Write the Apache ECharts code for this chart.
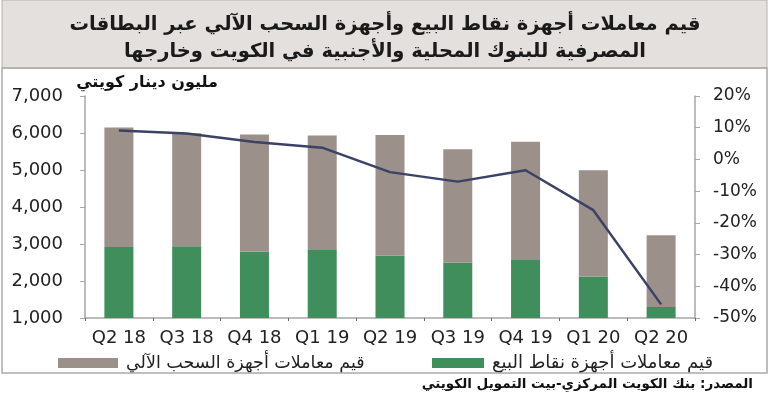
<!DOCTYPE html>
<html>
<head>
<meta charset="utf-8">
<script src="https://cdn.jsdelivr.net/npm/echarts@6/dist/echarts.min.js"></script>
<style>
  html, body { margin: 0; padding: 0; background: #fff; }
  #chart { width: 770px; height: 409px; }
</style>
</head>
<body>
<div id="chart"></div>
<script>
// بيانات الرسم
const quarters = ['Q2 18', 'Q3 18', 'Q4 18', 'Q1 19', 'Q2 19', 'Q3 19', 'Q4 19', 'Q1 20', 'Q2 20'];
// نقاط البيع (الجزء الأخضر)
const posValues = [2920, 2940, 2800, 2840, 2680, 2500, 2590, 2120, 1300];
// السحب الآلي (الجزء الرمادي فوق الأخضر)
const atmValues = [3230, 3050, 3160, 3090, 3265, 3060, 3175, 2870, 1935];
// نسبة التغير (المحور الأيمن)
const changeValues = [9.1, 8.2, 5.5, 3.7, -4.0, -7.0, -3.4, -16.0, -45.7];

const posName = 'قيم معاملات أجهزة نقاط البيع';
const atmName = 'قيم معاملات أجهزة السحب الآلي';

const arabicFont = 'DejaVu Sans';
const numFont = 'DejaVu Sans';
const axisGrey = '#a6a6a6';

const chart = echarts.init(document.getElementById('chart'), null, { renderer: 'canvas' });

const option = {
  animation: false,
  title: {
    text: 'قيم معاملات أجهزة نقاط البيع وأجهزة السحب الآلي عبر البطاقات\nالمصرفية للبنوك المحلية والأجنبية في الكويت وخارجها',
    left: 'center',
    top: 6,
    textStyle: {
      fontFamily: arabicFont,
      fontSize: 19.5,
      fontWeight: 'bold',
      color: '#1a1a1a',
      lineHeight: 27
    }
  },
  graphic: [
    {
      type: 'rect',
      z: -10,
      shape: { x: 2, y: 0, width: 765, height: 68 },
      style: { fill: '#e3e0dd', stroke: '#b5b1ad', lineWidth: 1 }
    },
    {
      type: 'rect',
      z: -10,
      shape: { x: 2, y: 68, width: 765, height: 305 },
      style: { fill: 'none', stroke: '#a9a9a9', lineWidth: 1.5 }
    },
    {
      type: 'text',
      x: 218,
      y: 83,
      style: {
        text: 'مليون دينار كويتي',
        fontFamily: arabicFont,
        fontSize: 16,
        fontWeight: 'bold',
        fill: '#111',
        align: 'right',
        verticalAlign: 'middle'
      }
    },
    {
      type: 'text',
      x: 753,
      y: 384,
      style: {
        text: 'المصدر: بنك الكويت المركزي-بيت التمويل الكويتي',
        fontFamily: arabicFont,
        fontSize: 13.5,
        fontWeight: 'bold',
        fill: '#111',
        align: 'right',
        verticalAlign: 'middle'
      }
    }
  ],
  legend: [
    {
      data: [atmName],
      left: 58,
      top: 354,
      padding: 0,
      itemWidth: 60,
      itemHeight: 10,
      icon: 'rect',
      textStyle: { fontFamily: arabicFont, fontSize: 17.5, color: '#222', padding: [0, 0, 0, 3] }
    },
    {
      data: [posName],
      left: 432,
      top: 354,
      padding: 0,
      itemWidth: 52,
      itemHeight: 10,
      icon: 'rect',
      textStyle: { fontFamily: arabicFont, fontSize: 18, color: '#222', padding: [0, 0, 0, 3] }
    }
  ],
  grid: {
    left: 85,
    right: 75,
    top: 96,
    bottom: 91,
    containLabel: false
  },
  xAxis: {
    type: 'category',
    data: quarters,
    axisLine: { onZero: false, lineStyle: { color: axisGrey, width: 1.5 } },
    axisTick: { show: true, length: 3, lineStyle: { color: '#666' } },
    axisLabel: {
      fontFamily: numFont,
      fontSize: 18,
      color: '#222',
      margin: 11,
      interval: 0
    }
  },
  yAxis: [
    {
      type: 'value',
      min: 1000,
      max: 7000,
      interval: 1000,
      splitLine: { show: false },
      axisLine: { show: true, lineStyle: { color: axisGrey, width: 1.5 } },
      axisTick: { show: true, length: 5, lineStyle: { color: axisGrey } },
      axisLabel: {
        fontFamily: numFont,
        fontSize: 18,
        color: '#222',
        margin: 22,
        formatter: (v) => v.toLocaleString('en-US')
      }
    },
    {
      type: 'value',
      min: -50,
      max: 20,
      interval: 10,
      position: 'right',
      splitLine: { show: false },
      axisLine: { show: true, lineStyle: { color: axisGrey, width: 1.5 } },
      axisTick: { show: true, length: 5, lineStyle: { color: axisGrey } },
      axisLabel: {
        fontFamily: numFont,
        fontSize: 17,
        color: '#222',
        margin: 18,
        formatter: '{value}%'
      }
    }
  ],
  series: [
    {
      name: posName,
      type: 'bar',
      stack: 'total',
      barWidth: 29,
      data: posValues,
      itemStyle: { color: '#3f8e5b' }
    },
    {
      name: atmName,
      type: 'bar',
      stack: 'total',
      barWidth: 29,
      data: atmValues,
      itemStyle: { color: '#9b918a' }
    },
    {
      name: 'change',
      type: 'line',
      yAxisIndex: 1,
      data: changeValues,
      showSymbol: false,
      symbol: 'none',
      lineStyle: { color: '#3b4266', width: 2.5 },
      z: 5
    }
  ]
};

chart.setOption(option);
</script>
</body>
</html>
